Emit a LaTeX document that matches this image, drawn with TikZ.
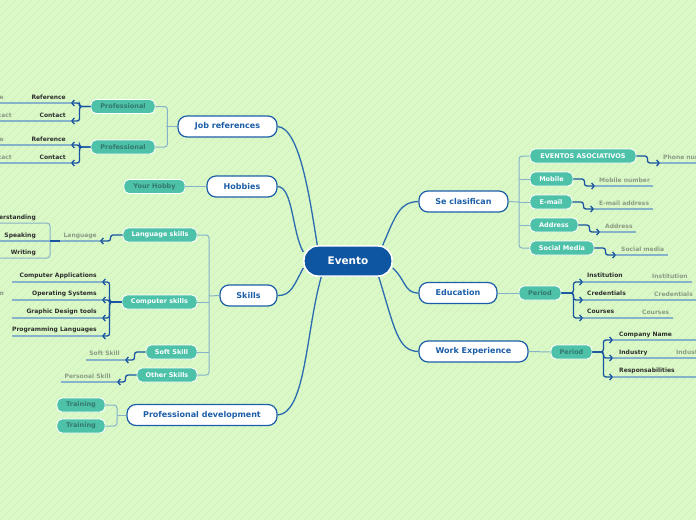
\documentclass[tikz,border=0pt]{standalone}
\usepackage{fontspec}
\setmainfont{DejaVu Sans}
\usetikzlibrary{arrows.meta}
\definecolor{bg}{HTML}{DAF9C6}
\definecolor{stripe}{HTML}{CFEEBD}
\definecolor{cblue}{HTML}{0E55A2}
\definecolor{mblue}{HTML}{1C5EA8}
\definecolor{curveblue}{HTML}{2B6BAF}
\definecolor{tealf}{HTML}{4DC2A9}
\definecolor{tealtxt}{HTML}{34786F}
\definecolor{steel}{HTML}{86B3C9}
\definecolor{arrowblue}{HTML}{1753A2}
\definecolor{leafdark}{HTML}{2E2E2E}
\definecolor{leafgray}{HTML}{8C9B85}
\begin{document}
\begin{tikzpicture}[x=1pt,y=-1pt,
  central/.style={draw=white, line width=1.4pt, fill=cblue, rounded corners=14pt, minimum width=88pt, minimum height=30pt, inner sep=0pt, text=white, font=\bfseries\fontsize{10.5}{12}\selectfont},
  main/.style={draw=mblue, line width=1.2pt, fill=white, rounded corners=9pt, minimum height=21pt, inner sep=0pt, text=mblue, font=\bfseries\fontsize{8}{9.6}\selectfont},
  sub/.style={draw=white, line width=0.9pt, fill=tealf, rounded corners=5pt, minimum height=14pt, inner sep=0pt, text=white, font=\bfseries\fontsize{6.5}{7.8}\selectfont},
  subd/.style={sub, text=tealtxt},
  trunk/.style={draw=curveblue, line width=1.3pt},
  branch/.style={draw=steel, line width=1pt, rounded corners=3pt},
  leafarrow/.style={draw=arrowblue, line width=1.3pt, rounded corners=2.5pt, -{Straight Barb[length=2.5pt,width=6pt]}},
  uline/.style={draw=steel, line width=1.1pt},
  dleaf/.style={text=leafdark, font=\bfseries\fontsize{6}{7}\selectfont, inner sep=0pt},
  gleaf/.style={text=leafgray, font=\bfseries\fontsize{6}{7}\selectfont, inner sep=0pt}]

% background
\path[use as bounding box] (0,0) rectangle (696,520);
\clip (0,0) rectangle (696,520);
\fill[bg] (0,0) rectangle (696,520);
\foreach \i in {-520,-512,...,704} \draw[stripe, line width=0.5pt] (\i,520) -- (\i+520,0);

% nodes
\node[central] (evento) at (348,261) {Evento};
\node[main, minimum width=99pt] (jobref) at (227.5,126.5) {Job references};
\node[main, minimum width=70pt] (hobbies) at (242,186.5) {Hobbies};
\node[main, minimum width=57pt] (skills) at (248.5,295.5) {Skills};
\node[main, minimum width=150pt] (profdev) at (202,415) {Professional development};
\node[main, minimum width=89pt] (seclas) at (463.5,201.5) {Se clasifican};
\node[main, minimum width=78pt] (educ) at (458,293) {Education};
\node[main, minimum width=109pt] (work) at (473.5,351.5) {Work Experience};

\node[subd, minimum width=64pt] (prof1) at (123,106.5) {Professional};
\node[subd, minimum width=64pt] (prof2) at (123,147) {Professional};
\node[subd, minimum width=61pt] (hobby) at (154.5,186.5) {Your Hobby};
\node[sub, minimum width=74pt] (lang) at (160,235) {Language skills};
\node[sub, minimum width=75pt] (comp) at (159.5,302) {Computer skills};
\node[sub, minimum width=51pt] (soft) at (171.5,352) {Soft Skill};
\node[sub, minimum width=60pt] (other) at (167,375) {Other Skills};
\node[subd, minimum width=48pt] (train1) at (81,405) {Training};
\node[subd, minimum width=48pt] (train2) at (81,426) {Training};
\node[sub, minimum width=106pt] (eventos) at (583,156) {EVENTOS ASOCIATIVOS};
\node[sub, minimum width=43pt] (mobile) at (551.5,179) {Mobile};
\node[sub, minimum width=42pt] (email) at (551,202) {E-mail};
\node[sub, minimum width=48pt] (address) at (554,225) {Address};
\node[sub, minimum width=64pt] (social) at (562,248) {Social Media};
\node[subd, minimum width=42pt] (period1) at (540,293) {Period};
\node[subd, minimum width=41pt] (period2) at (571.5,352) {Period};

% tip coordinates
\coordinate (tr1) at (71,103);  \coordinate (tc1) at (71,121);
\coordinate (tr2) at (71,145);  \coordinate (tc2) at (71,163);
\coordinate (tlang) at (100,241);
\coordinate (tca) at (102,282); \coordinate (tos) at (102,300);
\coordinate (tgd) at (102,318); \coordinate (tpl) at (102,336);
\coordinate (tsoft) at (125,360); \coordinate (toth) at (117,382);
\coordinate (tph) at (660,163); \coordinate (tmob) at (595,186);
\coordinate (tem) at (594,209); \coordinate (tadd) at (600,232);
\coordinate (tsoc) at (616,255);
\coordinate (tins) at (583,282); \coordinate (tcre) at (583,300); \coordinate (tcou) at (583,318);
\coordinate (tcom) at (613,340); \coordinate (tind) at (613,358); \coordinate (tres) at (613,377);
\coordinate (langb) at (60,241); \coordinate (langk) at (50,241);
\coordinate (skb) at (209,296); \coordinate (scb) at (519,202); \coordinate (pdb) at (117,415);

% underlines
\foreach \t in {tr1,tc1,tr2,tc2,tca,tos,tgd,tpl} \draw[uline] (\t) -- ++(-90,0);
\draw[uline] (tlang) -- (langb);
\draw[uline] (langk) -- ++(-60,0);
\draw[branch] (-10,223) -- (50,223) -- (50,258) -- (-10,258);
\draw[uline] (tsoft) -- ++(-39,0);
\draw[uline] (toth) -- ++(-56,0);
\draw[uline] (tph) -- ++(50,0);
\draw[uline] (tmob) -- ++(58,0);
\draw[uline] (tem) -- ++(59,0);
\draw[uline] (tadd) -- ++(36,0);
\draw[uline] (tsoc) -- ++(52,0);
\draw[uline] (tins) -- ++(109,0);
\draw[uline] (tcre) -- ++(120,0);
\draw[uline] (tcou) -- ++(90,0);
\foreach \t in {tcom,tind,tres} \draw[uline] (\t) -- ++(100,0);
\draw[draw=arrowblue, line width=1.3pt] (langb) -- (langk);

% branches
\draw[branch] (prof1.east) -- ++(12,0) |- (prof2.east);
\draw[branch] (jobref.west) -- ++(-11,0);
\draw[branch] (hobbies.west) -- (hobby.east);
\draw[branch] (lang.east) -| (skb) |- (other.east);
\draw[branch] (comp.east) -- (comp.east -| skb);
\draw[branch] (soft.east) -- (soft.east -| skb);
\draw[branch] (skills.west) -- (skb);
\draw[branch] (train1.east) -| (pdb) |- (train2.east);
\draw[branch] (profdev.west) -- (pdb);
\draw[branch] (eventos.west) -| (scb) |- (social.west);
\draw[branch] (mobile.west) -- (mobile.west -| scb);
\draw[branch] (email.west) -- (email.west -| scb);
\draw[branch] (address.west) -- (address.west -| scb);
\draw[branch] (seclas.east) -- (scb);
\draw[branch] (educ.east) -- (period1.west);
\draw[branch] (work.east) -- (period2.west);

% trunks
\draw[trunk] ([xshift=14pt]evento.north west) .. controls (310,200) and (300,128) .. (jobref.east);
\draw[trunk] ([yshift=9pt]evento.west) .. controls (292,232) and (293,187) .. (hobbies.east);
\draw[trunk] ([yshift=-7pt]evento.west) .. controls (294,285) and (291,296) .. (skills.east);
\draw[trunk] ([xshift=18pt]evento.south west) .. controls (306,330) and (306,413) .. (profdev.east);
\draw[trunk] ([xshift=-10pt]evento.north east) .. controls (396,214) and (400,202) .. (seclas.west);
\draw[trunk] ([yshift=-7pt]evento.east) .. controls (406,280) and (404,293) .. (educ.west);
\draw[trunk] ([xshift=-14pt]evento.south east) .. controls (395,330) and (398,351) .. (work.west);

% leaf arrows
\draw[leafarrow] (prof1.west) -- ++(-11,0) |- (tr1);
\draw[leafarrow] (prof1.west) -- ++(-11,0) |- (tc1);
\draw[leafarrow] (prof2.west) -- ++(-11,0) |- (tr2);
\draw[leafarrow] (prof2.west) -- ++(-11,0) |- (tc2);
\draw[leafarrow] (lang.west) -- ++(-12,0) |- (tlang);
\foreach \t in {tca,tos,tgd,tpl} \draw[leafarrow] (comp.west) -- ++(-12,0) |- (\t);
\draw[leafarrow] (soft.west) -- ++(-11,0) |- (tsoft);
\draw[leafarrow] (other.west) -- ++(-11,0) |- (toth);
\draw[leafarrow] (eventos.east) -- ++(11,0) |- (tph);
\draw[leafarrow] (mobile.east) -- ++(11,0) |- (tmob);
\draw[leafarrow] (email.east) -- ++(11,0) |- (tem);
\draw[leafarrow] (address.east) -- ++(11,0) |- (tadd);
\draw[leafarrow] (social.east) -- ++(11,0) |- (tsoc);
\foreach \t in {tins,tcre,tcou} \draw[leafarrow] (period1.east) -- ++(12,0) |- (\t);
\foreach \t in {tcom,tind,tres} \draw[leafarrow] (period2.east) -- ++(11,0) |- (\t);

% redraw central node on top
\node[central] at (evento) {Evento};

% left leaves
\node[dleaf, anchor=east] (lref1) at (66,97) {Reference};
\node[dleaf, anchor=east] (lcon1) at (66,115) {Contact};
\node[dleaf, anchor=east] (lref2) at (66,139) {Reference};
\node[dleaf, anchor=east] (lcon2) at (66,157) {Contact};
\node[gleaf, anchor=east] (gname1) at (4,97) {Name};
\node[gleaf, anchor=east] (gcon1) at (12,115) {Contact};
\node[gleaf, anchor=east] (gname2) at (4,139) {Name};
\node[gleaf, anchor=east] (gcon2) at (12,157) {Contact};
\node[dleaf, anchor=east] (lund) at (36,218) {Understanding};
\node[dleaf, anchor=east] (lspe) at (36,236) {Speaking};
\node[dleaf, anchor=east] (lwri) at (36,253) {Writing};
\node[gleaf, anchor=east] (glang) at (97,236) {Language};
\node[dleaf, anchor=east] (lca) at (97,276) {Computer Applications};
\node[dleaf, anchor=east] (los) at (97,294) {Operating Systems};
\node[gleaf, anchor=east] (gsys) at (4,294) {System};
\node[dleaf, anchor=east] (lgd) at (97,312) {Graphic Design tools};
\node[dleaf, anchor=east] (lpl) at (97,330) {Programming Languages};
\node[gleaf, anchor=east] (gsoft) at (120,353) {Soft Skill};
\node[gleaf, anchor=east] (gpers) at (111,376) {Personal Skill};

% right leaves
\node[gleaf, anchor=west] (gph) at (663,157) {Phone number};
\node[gleaf, anchor=west] (gmob) at (599,180) {Mobile number};
\node[gleaf, anchor=west] (gem) at (599,203) {E-mail address};
\node[gleaf, anchor=west] (gadd) at (605,226) {Address};
\node[gleaf, anchor=west] (gsoc) at (621,249) {Social media};
\node[dleaf, anchor=west] (lins) at (587,275) {Institution};
\node[gleaf, anchor=west] (gins) at (652,276) {Institution};
\node[dleaf, anchor=west] (lcre) at (587,293) {Credentials};
\node[gleaf, anchor=west] (gcre) at (654,294) {Credentials};
\node[dleaf, anchor=west] (lcou) at (587,311) {Courses};
\node[gleaf, anchor=west] (gcou) at (642,312) {Courses};
\node[dleaf, anchor=west] (lcom) at (619,335) {Company Name};
\node[dleaf, anchor=west] (lind) at (619,353) {Industry};
\node[gleaf, anchor=west] (gind) at (676,353) {Industry};
\node[dleaf, anchor=west] (lres) at (619,371) {Responsabilities};
\end{tikzpicture}
\end{document}
